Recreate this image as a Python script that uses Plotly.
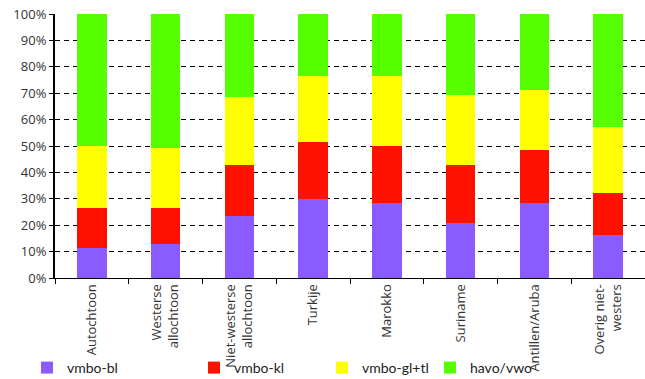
import plotly.graph_objects as go

categories = ["Autochtoon", "Westerse<br>allochtoon", "Niet-westerse<br>allochtoon", "Turkije",
              "Marokko", "Suriname", "Antillen/Aruba", "Overig niet-<br>westers"]
series_names = ["vmbo-bl", "vmbo-kl", "vmbo-gl+tl", "havo/vwo"]
vmbo_bl = [11.2, 13.0, 23.4, 29.9, 28.4, 21.0, 28.4, 16.3]
vmbo_kl = [15.3, 13.5, 19.4, 21.6, 21.6, 21.8, 20.0, 16.0]
vmbo_gl_tl = [23.5, 22.8, 25.7, 25.1, 26.6, 26.5, 22.7, 24.9]
havo_vwo = [50.0, 50.7, 31.5, 23.4, 23.4, 30.7, 28.9, 42.8]
colors = ["#8a5cff", "#ff1100", "#ffff00", "#55ff00"]
y_ticks = [0, 10, 20, 30, 40, 50, 60, 70, 80, 90, 100]

W, H = 645, 379
fig = go.Figure()
values = [vmbo_bl, vmbo_kl, vmbo_gl_tl, havo_vwo]
legend_ids = ["legend", "legend2", "legend3", "legend4"]
for name, vals, col, lg in zip(series_names, values, colors, legend_ids):
    fig.add_trace(go.Bar(x=categories, y=vals, name=name, marker_color=col,
                         marker_line_width=0, legend=lg))

font = dict(family="Open Sans, sans-serif", size=13, color="#333333")
legend_px = [27, 194, 322, 430]
layout_legends = {}
for lg, lx in zip(legend_ids, legend_px):
    layout_legends[lg] = dict(x=lx / W, y=(H - 368) / H, xref="container", yref="container",
                              xanchor="left", yanchor="middle",
                              orientation="h", font=dict(family="Lato, sans-serif", size=14, color="#222222"),
                              bgcolor="rgba(0,0,0,0)", itemwidth=30, tracegroupgap=0)

fig.update_layout(
    width=W, height=H,
    margin=dict(l=55, r=0, t=14, b=101),
    barmode="stack", bargap=0.6,
    plot_bgcolor="white", paper_bgcolor="white",
    font=font,
    showlegend=True,
    **layout_legends,
)
fig.update_yaxes(range=[0, 100], tickvals=y_ticks, ticktext=[f"{v}%" for v in y_ticks],
                 showgrid=True, gridcolor="black", gridwidth=1, griddash="5px,4px",
                 showline=True, linecolor="black", linewidth=2, automargin=False,
                 ticks="outside", ticklen=4, tickcolor="black", zeroline=False)
fig.update_xaxes(tickangle=-90, showline=True, linecolor="black", linewidth=1, automargin=False,
                 ticks="outside", ticklen=5, tickcolor="black", tickson="boundaries",
                 tickfont=dict(size=13), showgrid=False)

fig.write_html("out.html", config={"displayModeBar": False},
               post_script="document.body.style.margin='0';document.body.style.overflow='hidden';")
